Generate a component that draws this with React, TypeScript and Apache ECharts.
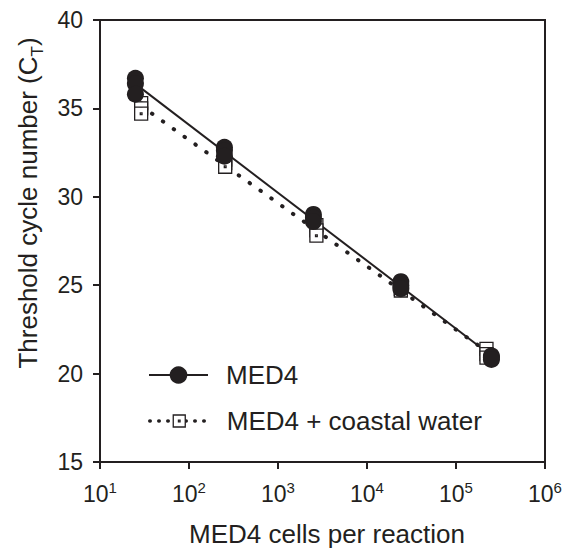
import React, { useEffect, useRef } from "react";
import * as echarts from "echarts";

// ---- data ----
const med4Cells = [25, 25, 25, 250, 250, 250, 2500, 2500, 2500, 24000, 24000, 24000, 250000, 250000, 250000];
const med4Ct = [36.7, 36.4, 35.8, 32.8, 32.6, 32.3, 29.0, 28.8, 28.6, 25.2, 25.0, 24.8, 21.0, 20.9, 20.8];
const coastalCells = [29, 29, 29, 255, 255, 255, 2700, 2700, 2700, 24000, 24000, 24000, 220000, 220000, 220000];
const coastalCt = [35.3, 35.0, 34.7, 32.1, 31.9, 31.7, 28.4, 28.1, 27.8, 25.0, 24.8, 24.7, 21.4, 21.1, 20.9];
const seriesNames = ["MED4", "MED4 + coastal water"];
const yTitle = "Threshold cycle number (C{sub|T})";
const xTitle = "MED4 cells per reaction";

const INK = "#231f20";
const FONT = "'Liberation Sans', Arial, sans-serif";
const SQUARE_DOT = "path://M0,0H12V12H0Z M5.2,5.2H6.8V6.8H5.2Z";

function fitLine(xs: number[], ys: number[]) {
  const lx = xs.map((v) => Math.log10(v));
  const n = lx.length;
  const mx = lx.reduce((a, b) => a + b, 0) / n;
  const my = ys.reduce((a, b) => a + b, 0) / n;
  let sxy = 0, sxx = 0;
  for (let i = 0; i < n; i++) {
    sxy += (lx[i] - mx) * (ys[i] - my);
    sxx += (lx[i] - mx) * (lx[i] - mx);
  }
  const b = sxy / sxx;
  const a = my - b * mx;
  const x0 = Math.min(...xs);
  const x1 = Math.max(...xs);
  return [
    [x0, a + b * Math.log10(x0)],
    [x1, a + b * Math.log10(x1)],
  ];
}

export default function App() {
  const ref = useRef<HTMLDivElement>(null);
  useEffect(() => {
    if (!ref.current) return;
    const chart = echarts.init(ref.current, null, { renderer: "svg" });
    const med4Pts = med4Cells.map((c, i) => [c, med4Ct[i]]);
    const coastalPts = coastalCells.map((c, i) => [c, coastalCt[i]]);
    chart.setOption({
      animation: false,
      textStyle: { fontFamily: FONT, color: INK },
      grid: {
        left: 100,
        right: 25,
        top: 20,
        bottom: 87,
        show: true,
        borderColor: INK,
        borderWidth: 2,
        backgroundColor: "transparent",
      },
      legend: [
        {
          data: [seriesNames[0]],
          left: 148,
          top: 362,
          padding: 0,
          itemWidth: 59,
          itemHeight: 22,
          selectedMode: false,
          textStyle: { fontSize: 26, color: INK, fontFamily: FONT, padding: [0, 0, 0, 13] },
        },
        {
          data: [seriesNames[1]],
          left: 148,
          top: 408,
          padding: 0,
          itemWidth: 59,
          itemHeight: 15,
          selectedMode: false,
          itemStyle: { color: "#ffffff", borderColor: INK, borderWidth: 1.3 },
          lineStyle: { type: [0.5, 8.5], width: 3.5, cap: "round", color: INK },
          textStyle: { fontSize: 26, color: INK, fontFamily: FONT, padding: [0, 0, 0, 13] },
        },
      ],
      xAxis: {
        type: "log",
        logBase: 10,
        min: 10,
        max: 1000000,
        splitNumber: 5,
        name: xTitle,
        nameLocation: "middle",
        nameGap: 59,
        nameTextStyle: { fontSize: 26, color: INK, fontFamily: FONT, padding: [0, 0, 0, 9] },
        axisLine: { show: true, lineStyle: { color: INK, width: 2 } },
        axisTick: { show: true, inside: false, length: 7, lineStyle: { color: INK, width: 2 } },
        splitLine: { show: false },
        minorTick: { show: false },
        axisLabel: {
          margin: 18,
          color: INK,
          fontFamily: FONT,
          formatter: (v: number) => `{b|10}{s|${Math.round(Math.log10(v))}}`,
          rich: {
            b: { fontSize: 23, lineHeight: 28, color: INK, fontFamily: FONT },
            s: { fontSize: 15, lineHeight: 15, verticalAlign: "top", color: INK, fontFamily: FONT },
          },
        },
      },
      yAxis: {
        type: "value",
        min: 15,
        max: 40,
        interval: 5,
        axisLine: { show: true, lineStyle: { color: INK, width: 2 } },
        axisTick: { show: true, inside: false, length: 7, lineStyle: { color: INK, width: 2 } },
        splitLine: { show: false },
        axisLabel: { margin: 17, fontSize: 23, color: INK, fontFamily: FONT },
      },
      graphic: [
        {
          type: "text",
          x: 28,
          y: 203,
          rotation: Math.PI / 2,
          style: {
            text: yTitle,
            fontSize: 26,
            lineHeight: 36,
            fontFamily: FONT,
            fill: INK,
            align: "center",
            verticalAlign: "middle",
            rich: {
              sub: { fontSize: 17, lineHeight: 14, verticalAlign: "bottom", fill: INK, fontFamily: FONT },
            },
          },
        },
      ],
      series: [
        {
          name: seriesNames[0],
          type: "line",
          data: fitLine(med4Cells, med4Ct),
          symbol: "circle",
          symbolSize: 17,
          showSymbol: false,
          itemStyle: { color: INK },
          lineStyle: { color: INK, width: 2 },
          z: 2,
        },
        {
          name: seriesNames[1],
          type: "line",
          data: fitLine(coastalCells, coastalCt),
          symbol: SQUARE_DOT,
          symbolSize: 12,
          showSymbol: false,
          itemStyle: { color: "#ffffff", borderColor: INK, borderWidth: 1.3 },
          lineStyle: { color: INK, width: 4, type: [0.5, 12.8], cap: "round" },
          z: 2,
        },
        {
          name: seriesNames[1],
          type: "scatter",
          data: coastalPts,
          symbol: SQUARE_DOT,
          symbolSize: 13,
          itemStyle: { color: "#ffffff", borderColor: INK, borderWidth: 1.3, opacity: 1 },
          z: 3,
        },
        {
          name: seriesNames[0],
          type: "scatter",
          data: med4Pts,
          symbol: "circle",
          symbolSize: 17,
          itemStyle: { color: INK, opacity: 1 },
          z: 4,
        },
      ],
    });
    return () => chart.dispose();
  }, []);
  return (
    <div
      ref={ref}
      style={{ position: "fixed", left: 0, top: 0, width: 570, height: 552, background: "#fff" }}
    />
  );
}
